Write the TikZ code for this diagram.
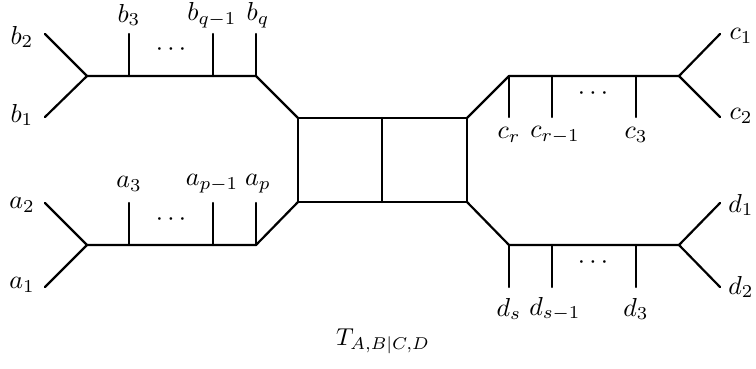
\documentclass[tikz,border=0pt]{standalone}
\begin{document}
\begin{tikzpicture}[x=1pt,y=-1pt,
  edge/.style={line width=2.2pt,line cap=round,line join=round},
  lbl/.style={inner sep=0pt,scale=2.6}]
\useasboundingbox (0,0) rectangle (756,368);
% box
\coordinate (s1) at (298,118); \coordinate (s2) at (382,118); \coordinate (s3) at (467,118);
\coordinate (s4) at (298,202); \coordinate (s5) at (382,202); \coordinate (s6) at (467,202);
\draw[edge] (s1) -- (s3) -- (s6) -- (s4) -- cycle;
\draw[edge] (s2) -- (s5);
% top left
\coordinate (bf) at (87,76); \coordinate (bh1) at (129,76); \coordinate (bh2) at (213,76); \coordinate (bh3) at (256,76);
\coordinate (b1e) at (45,117); \coordinate (b2e) at (45,34);
\coordinate (b3e) at (129,34); \coordinate (bq1e) at (213,34); \coordinate (bqe) at (256,34);
\draw[edge] (b2e) -- (bf) -- (b1e);
\draw[edge] (bf) -- (bh3) -- (s1);
\draw[edge] (bh1) -- (b3e); \draw[edge] (bh2) -- (bq1e); \draw[edge] (bh3) -- (bqe);
\node[lbl] (lb2) at (22,37) {$b_2$};
\node[lbl] (lb1) at (22,115) {$b_1$};
\node[lbl] (lb3) at (129,15) {$b_3$};
\node[lbl] (lbq1) at (212,15) {$b_{q-1}$};
\node[lbl] (lbq) at (258,15) {$b_q$};
\node[lbl] (db) at (171,50) {$\cdots$};
% bottom left
\coordinate (af) at (87,245); \coordinate (ah1) at (129,245); \coordinate (ah2) at (213,245); \coordinate (ah3) at (256,245);
\coordinate (a1e) at (45,287); \coordinate (a2e) at (45,203);
\coordinate (a3e) at (129,203); \coordinate (ap1e) at (213,203); \coordinate (ape) at (256,203);
\draw[edge] (a2e) -- (af) -- (a1e);
\draw[edge] (af) -- (ah3) -- (s4);
\draw[edge] (ah1) -- (a3e); \draw[edge] (ah2) -- (ap1e); \draw[edge] (ah3) -- (ape);
\node[lbl] (la2) at (22,205) {$a_2$};
\node[lbl] (la1) at (22,285) {$a_1$};
\node[lbl] (la3) at (129,184) {$a_3$};
\node[lbl] (lap1) at (212,184) {$a_{p-1}$};
\node[lbl] (lap) at (258,184) {$a_p$};
\node[lbl] (da) at (171,220) {$\cdots$};
% top right
\coordinate (cf) at (679,76); \coordinate (ch1) at (509,76); \coordinate (ch2) at (552,76); \coordinate (ch3) at (636,76);
\coordinate (c1e) at (720,34); \coordinate (c2e) at (720,117);
\coordinate (cre) at (509,117); \coordinate (cr1e) at (552,117); \coordinate (c3e) at (636,117);
\draw[edge] (c1e) -- (cf) -- (c2e);
\draw[edge] (cf) -- (ch1) -- (s3);
\draw[edge] (ch1) -- (cre); \draw[edge] (ch2) -- (cr1e); \draw[edge] (ch3) -- (c3e);
\node[lbl] (lc1) at (741,36) {$c_1$};
\node[lbl] (lc2) at (741,116) {$c_2$};
\node[lbl] (lcr) at (509,135) {$c_r$};
\node[lbl] (lcr1) at (555,135) {$c_{r-1}$};
\node[lbl] (lc3) at (636,135) {$c_3$};
\node[lbl] (dc) at (593,94) {$\cdots$};
% bottom right
\coordinate (df) at (679,245); \coordinate (dh1) at (509,245); \coordinate (dh2) at (552,245); \coordinate (dh3) at (636,245);
\coordinate (d1e) at (720,203); \coordinate (d2e) at (720,287);
\coordinate (dse) at (509,287); \coordinate (ds1e) at (552,287); \coordinate (d3e) at (636,287);
\draw[edge] (d1e) -- (df) -- (d2e);
\draw[edge] (df) -- (dh1) -- (s6);
\draw[edge] (dh1) -- (dse); \draw[edge] (dh2) -- (ds1e); \draw[edge] (dh3) -- (d3e);
\node[lbl] (ld1) at (741,205) {$d_1$};
\node[lbl] (ld2) at (741,287) {$d_2$};
\node[lbl] (lds) at (509,309) {$d_s$};
\node[lbl] (lds1) at (555,309) {$d_{s-1}$};
\node[lbl] (ld3) at (636,309) {$d_3$};
\node[lbl] (dd) at (593,263) {$\cdots$};
% title
\node[lbl,scale=0.94] (title) at (383,341) {$T_{A,B|C,D}$};
\end{tikzpicture}
\end{document}
